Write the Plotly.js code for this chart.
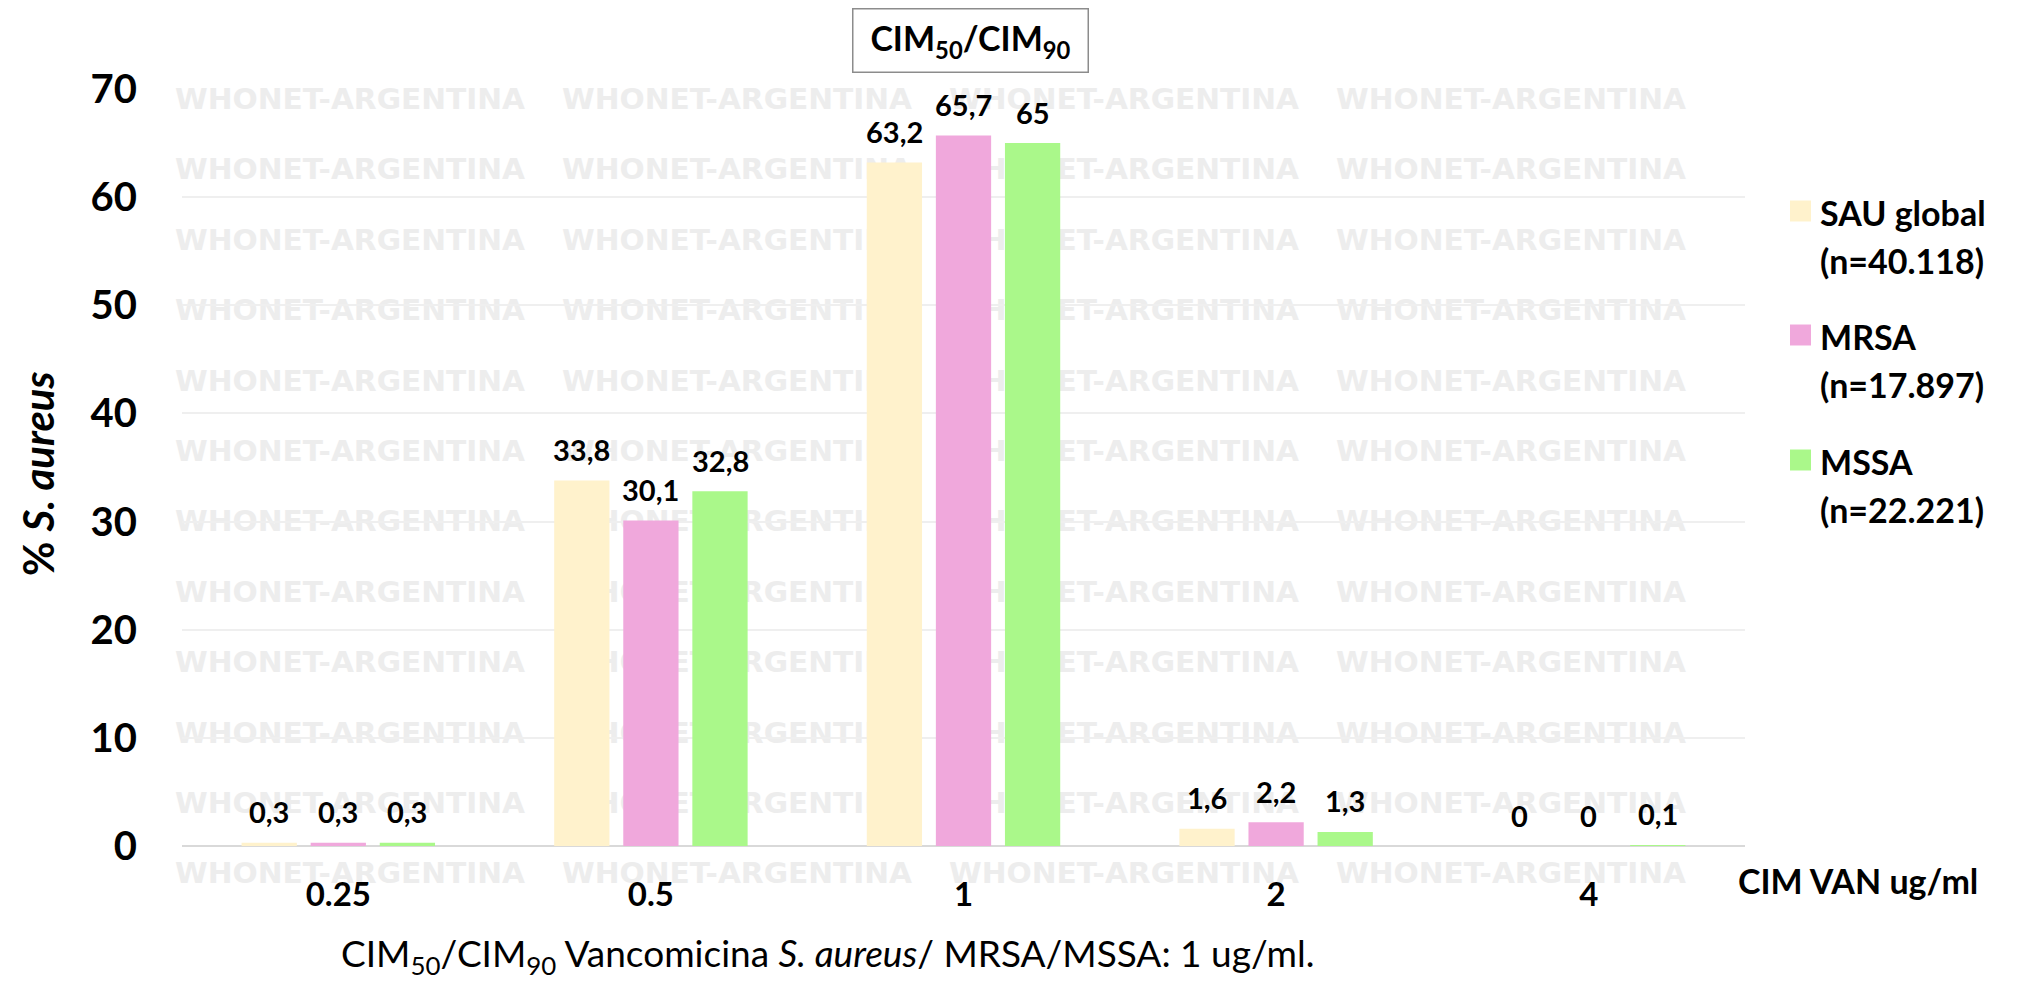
<!DOCTYPE html>
<html>
<head>
<meta charset="utf-8">
<script src="https://cdn.plot.ly/plotly-3.0.1.min.js"></script>
<style>html,body{margin:0;padding:0;background:#fff;}#chart{width:2028px;height:986px;}</style>
</head>
<body>
<div id="chart"></div>
<script>
// ---- data ----
var categories = ['0.25', '0.5', '1', '2', '4'];
var seriesNames = ['SAU global', 'MRSA', 'MSSA'];
var seriesN = ['(n=40.118)', '(n=17.897)', '(n=22.221)'];
var sauGlobal = [0.3, 33.8, 63.2, 1.6, 0];
var mrsa = [0.3, 30.1, 65.7, 2.2, 0];
var mssa = [0.3, 32.8, 65, 1.3, 0.1];
var seriesColors = ['#FFF2CC', '#F0A8DC', '#AAF88A'];
var yTicks = [0, 10, 20, 30, 40, 50, 60, 70];

var seriesValues = [sauGlobal, mrsa, mssa];

var W = 2028, H = 986;
var mL = 182, mR = 283, mT = 89, mB = 140;
var pW = W - mL - mR, pH = H - mT - mB;
function px(x) { return (x - mL) / pW; }
function py(y) { return (H - mB - y) / pH; }

var FONT = 'Lato, "Open Sans", sans-serif';

var traces = seriesValues.map(function (vals, i) {
  return {
    type: 'bar',
    name: seriesNames[i],
    x: categories,
    y: vals,
    marker: { color: seriesColors[i], line: { width: 0 } },
    showlegend: false,
    hoverinfo: 'x+y+name'
  };
});

var annotations = [];
// data labels (x given as category index)
seriesValues.forEach(function (vals, i) {
  vals.forEach(function (v, k) {
    annotations.push({
      x: k, y: v, xref: 'x', yref: 'y',
      text: '<b>' + String(v).replace('.', ',') + '</b>',
      showarrow: false, xanchor: 'center', yanchor: 'middle',
      xshift: (i - 1) * 69.1, yshift: 31,
      font: { family: FONT, size: 29, color: '#000' }
    });
  });
});
// title box
annotations.push({
  xref: 'paper', yref: 'paper', x: px(970), y: py(40),
  xanchor: 'center', yanchor: 'middle', showarrow: false,
  text: '<b>CIM<sub>50</sub>/CIM<sub>90</sub></b>',
  width: 232, height: 60, bordercolor: '#8C8C8C', borderwidth: 1.5, borderpad: 1,
  bgcolor: '#fff',
  font: { family: FONT, size: 34, color: '#000' }
});
// y axis title
annotations.push({
  xref: 'paper', yref: 'paper', x: px(38), y: py(474),
  xanchor: 'center', yanchor: 'middle', showarrow: false, textangle: -90,
  text: '<b>% <i>S. aureus</i></b>',
  font: { family: FONT, size: 42, color: '#000' }
});
// x axis unit label
annotations.push({
  xref: 'paper', yref: 'paper', x: px(1736), y: py(880),
  xanchor: 'left', yanchor: 'middle', showarrow: false,
  text: '<b>CIM VAN ug/ml</b>',
  font: { family: FONT, size: 34, color: '#000' }
});
// caption
annotations.push({
  xref: 'paper', yref: 'paper', x: px(828), y: py(955),
  xanchor: 'center', yanchor: 'middle', showarrow: false,
  text: 'CIM<sub>50</sub>/CIM<sub>90</sub> Vancomicina <i>S. aureus</i>/ MRSA/MSSA: 1 ug/ml.',
  font: { family: FONT, size: 37, color: '#000' }
});

// manual legend
var shapes = [];
var legendY = [211, 335, 460];
seriesNames.forEach(function (nm, i) {
  var cy = legendY[i];
  shapes.push({
    type: 'rect', xref: 'paper', yref: 'paper',
    x0: px(1790), x1: px(1811), y0: py(cy + 10.5), y1: py(cy - 10.5),
    fillcolor: seriesColors[i], line: { width: 0 }
  });
  annotations.push({
    xref: 'paper', yref: 'paper', x: px(1818), y: py(cy + 1),
    xanchor: 'left', yanchor: 'middle', showarrow: false,
    text: '<b>' + nm + '</b>', font: { family: FONT, size: 34, color: '#000' }
  });
  annotations.push({
    xref: 'paper', yref: 'paper', x: px(1818), y: py(cy + 49),
    xanchor: 'left', yanchor: 'middle', showarrow: false,
    text: '<b>' + seriesN[i] + '</b>', font: { family: FONT, size: 34, color: '#000' }
  });
});

// watermark background (decoration)
var svg = '<svg xmlns="http://www.w3.org/2000/svg" width="' + W + '" height="' + H + '">';
for (var r = 0; r < 12; r++) {
  for (var c = 0; c < 4; c++) {
    var wx = 175 + c * 387, wy = 99 + r * 70.4 + 10;
    svg += '<text x="' + wx + '" y="' + wy + '" font-family="DejaVu Sans" font-weight="bold" font-size="28" textLength="350" lengthAdjust="spacingAndGlyphs" fill="#EDEDED">WHONET-ARGENTINA</text>';
  }
}
svg += '</svg>';
var wmUrl = 'data:image/svg+xml;charset=utf-8,' + encodeURIComponent(svg);

var layout = {
  width: W, height: H,
  margin: { l: mL, r: mR, t: mT, b: mB, pad: 0 },
  paper_bgcolor: '#fff',
  plot_bgcolor: 'rgba(0,0,0,0)',
  barmode: 'group',
  bargap: 0.337,
  bargroupgap: 0.2,
  showlegend: false,
  font: { family: FONT, color: '#000' },
  xaxis: {
    type: 'category',
    categoryorder: 'array', categoryarray: categories,
    showgrid: false, zeroline: false, showline: false,
    ticks: 'outside', ticklen: 19, tickcolor: 'rgba(0,0,0,0)',
    tickfont: { family: FONT, size: 33, color: '#000', weight: 'bold' },
    fixedrange: true
  },
  yaxis: {
    range: [0, 70],
    tickvals: yTicks,
    ticktext: yTicks.map(String),
    showgrid: true, gridcolor: '#EFEFEF', gridwidth: 2,
    zeroline: true, zerolinecolor: '#D9D9D9', zerolinewidth: 2,
    showline: false,
    ticks: 'outside', ticklen: 36, tickcolor: 'rgba(0,0,0,0)',
    tickfont: { family: FONT, size: 40, color: '#000', weight: 'bold' },
    fixedrange: true
  },
  images: [{
    source: wmUrl, xref: 'paper', yref: 'paper',
    x: -mL / pW, y: 1 + mT / pH, sizex: W / pW, sizey: H / pH,
    xanchor: 'left', yanchor: 'top', sizing: 'stretch', layer: 'below'
  }],
  annotations: annotations,
  shapes: shapes
};

Plotly.newPlot('chart', traces, layout, { displayModeBar: false, staticPlot: true });
</script>
</body>
</html>
